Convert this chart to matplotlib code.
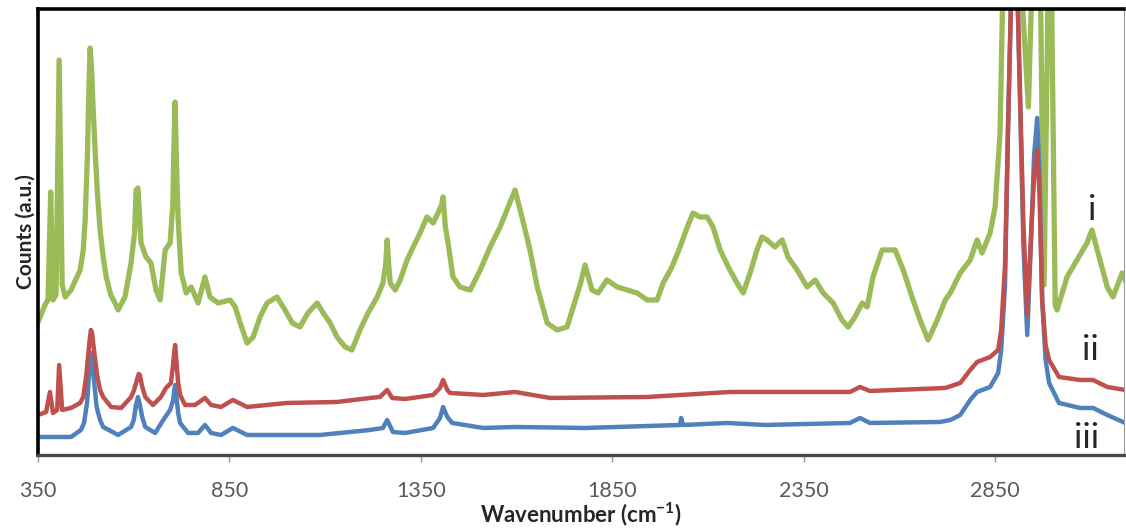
import matplotlib
matplotlib.use("Agg")
import matplotlib.pyplot as plt

plt.rcParams['font.family'] = ['Lato', 'DejaVu Sans']
plt.rcParams['mathtext.fontset'] = 'custom'
plt.rcParams['mathtext.rm'] = 'Lato:bold'
plt.rcParams['mathtext.default'] = 'rm'

# Raman spectra, counts in arbitrary units (offset traces)
wn_i = [350, 368, 376, 383, 389, 397, 405, 413, 421, 436, 460, 468, 473, 479, 483,
        486, 490, 494, 499, 505, 512, 520, 528, 540, 551, 559, 577, 593, 602, 606,
        611, 615, 619, 632, 645, 658, 669, 682, 695, 702, 705, 708, 711, 716, 724,
        737, 750, 768, 786, 799, 820, 852, 865, 878, 896, 912, 930, 948, 974, 995,
        1014, 1034, 1055, 1079, 1095, 1113, 1131, 1152, 1170, 1191, 1212, 1236,
        1251, 1258, 1262, 1266, 1270, 1283, 1296, 1314, 1330, 1348, 1366, 1382,
        1395, 1404, 1408, 1414, 1421, 1434, 1452, 1479, 1505, 1531, 1557, 1578,
        1596, 1614, 1635, 1654, 1680, 1706, 1732, 1748, 1766, 1779, 1797, 1813,
        1836, 1863, 1889, 1915, 1941, 1967, 1983, 2006, 2027, 2046, 2061, 2079,
        2098, 2113, 2132, 2153, 2176, 2192, 2210, 2228, 2241, 2254, 2275, 2294,
        2309, 2333, 2359, 2380, 2401, 2427, 2450, 2466, 2484, 2503, 2516, 2531,
        2555, 2571, 2589, 2610, 2633, 2654, 2675, 2699, 2720, 2733, 2759, 2785,
        2803, 2816, 2837, 2850, 2863, 2871, 2910, 2917, 2937, 2947, 2968, 2978,
        2989, 2997, 3007, 3012, 3038, 3064, 3090, 3103, 3119, 3143, 3158, 3182,
        3190]
counts_i = [133, 150, 155, 263, 155, 160, 395, 170, 158, 165, 185, 205, 235, 300, 370,
            407, 385, 345, 305, 262, 225, 198, 178, 160, 152, 145, 158, 192, 222, 265,
            267, 240, 212, 198, 192, 165, 155, 205, 212, 250, 310, 353,
            300, 235, 182, 162, 168, 152, 178, 158, 152, 155, 148, 132, 112, 118, 138,
            152, 158, 145, 132, 128, 142, 152, 142, 132, 118, 108, 105, 125, 142, 158,
            172, 190, 215, 190, 172, 165, 175, 195, 208, 222, 238, 232,
            242, 250, 258, 228, 212, 178, 168, 165, 185, 208, 228, 248,
            265, 238, 205, 168, 132, 125, 128, 148, 170, 190, 165, 162,
            175, 168, 165, 162, 155, 155, 172, 188, 208, 228, 242, 238,
            238, 228, 205, 188, 172, 162, 182, 205, 218, 215, 208, 215,
            198, 185, 168, 175, 162, 152, 135, 128, 138, 152, 148, 178,
            205, 205, 205, 185, 158, 135, 115, 135, 155, 162, 182, 195,
            215, 202, 222, 248, 322, 480, 480, 480, 348, 480, 480, 170,
            480, 480, 150, 145, 178, 195, 212, 225, 202, 168, 158, 182,
            175]

wn_ii = [350, 371, 381, 389, 400, 405, 413, 436, 460, 468, 476, 484, 488, 491, 497,
         505, 512, 520, 541, 567, 593, 600, 609, 613, 616, 621, 630, 650, 671, 684,
         697, 702, 705, 708, 711, 716, 721, 734, 760, 786, 802, 828, 859, 896, 1000,
         1131, 1217, 1243, 1262, 1275, 1309, 1382, 1400, 1408, 1419, 1426, 1513,
         1596, 1688, 1941, 2158, 2471, 2497, 2523, 2720, 2759, 2785, 2803, 2837,
         2858, 2866, 2876, 2884, 2892, 2900, 2908, 2916, 2924, 2934, 2944, 2952,
         2960, 2966, 2973, 2982, 2991, 3017, 3072, 3106, 3143, 3190]
counts_ii = [40, 43, 63, 42, 45, 90, 45, 47, 52, 58, 80, 112, 125, 122, 102,
             78, 65, 58, 48, 47, 58, 64, 76, 81, 80, 70, 58, 50, 58, 67,
             72, 88, 100, 110, 96, 72, 60, 50, 50, 57, 50, 48, 55, 48, 52,
             53, 57, 58, 65, 57, 56, 60, 67, 75, 65, 62, 60,
             63, 57, 58, 63, 63, 68, 64, 67, 72, 85, 93, 98,
             105, 125, 190, 330, 460, 520, 470, 350, 230, 140, 220, 280,
             305, 260, 155, 110, 95, 78, 75, 75, 68, 65]

wn_iii = [350, 436, 462, 470, 478, 484, 488, 491, 496, 503, 512, 520, 559, 593, 600,
          606, 611, 616, 622, 630, 656, 677, 695, 703, 706, 708, 711, 716, 721, 742,
          768, 786, 802, 828, 859, 896, 1087, 1217, 1251, 1262, 1277, 1309, 1382,
          1400, 1408, 1419, 1432, 1513, 1596, 1779, 2027, 2030, 2035, 2150, 2249,
          2471, 2497, 2523, 2706, 2733, 2759, 2785, 2803, 2837, 2858, 2866, 2876,
          2884, 2892, 2900, 2908, 2916, 2924, 2934, 2944, 2952, 2960, 2966, 2973,
          2982, 2991, 3017, 3072, 3106, 3143, 3190]
counts_iii = [18, 18, 25, 32, 52, 85, 102, 96, 75, 48, 35, 28, 20, 28, 35,
              50, 58, 50, 38, 28, 22, 35, 45, 55, 65, 70, 60, 42, 32, 22,
              22, 30, 22, 20, 27, 20, 20, 25, 27, 35, 23, 22, 27,
              37, 48, 38, 32, 27, 28, 27, 30, 37, 30, 32, 30,
              32, 37, 32, 33, 35, 40, 55, 63, 68, 82, 105, 170,
              330, 460, 520, 470, 340, 210, 120, 215, 300, 337, 280, 155,
              95, 72, 52, 47, 47, 40, 32]

labels = ['i', 'ii', 'iii']
label_pos = [(3103, 245), (3098, 105), (3090, 17)]
xticks = [350, 850, 1350, 1850, 2350, 2850]

fig = plt.figure(figsize=(11.26, 5.28), dpi=100)
ax = fig.add_axes([0.0338, 0.1383, 0.9645, 0.8447])

ax.plot(wn_i, counts_i, color='#9BBB59', lw=3.8, solid_joinstyle='round')
ax.plot(wn_iii, counts_iii, color='#4F81BD', lw=3.2, solid_joinstyle='round')
ax.plot(wn_ii, counts_ii, color='#C0504D', lw=3.2, solid_joinstyle='round')

for txt, (x, y) in zip(labels, label_pos):
    ax.text(x, y, txt, fontsize=25, color='#262626', ha='center', va='center')

ax.set_xlim(350, 3187)
ax.set_ylim(0, 446)
ax.set_xticks(xticks)
ax.set_yticks([])
ax.tick_params(axis='x', direction='out', length=5, width=1, color='#999999',
               labelsize=15.5, labelcolor='#595959', pad=14)

ax.spines['left'].set_color('black')
ax.spines['left'].set_linewidth(2.6)
ax.spines['top'].set_color('black')
ax.spines['top'].set_linewidth(2.6)
ax.spines['bottom'].set_color('#4a4a4a')
ax.spines['bottom'].set_linewidth(2.4)
ax.spines['right'].set_color('#9a9a9a')
ax.spines['right'].set_linewidth(0.8)

ax.set_xlabel('Wavenumber (cm$^{-1}$)', fontsize=16, fontweight='bold',
              color='#262626', labelpad=-1)
ax.set_ylabel('Counts (a.u.)', fontsize=15, fontweight='bold',
              color='#262626', labelpad=2)

fig.savefig('out.png', dpi=100)
